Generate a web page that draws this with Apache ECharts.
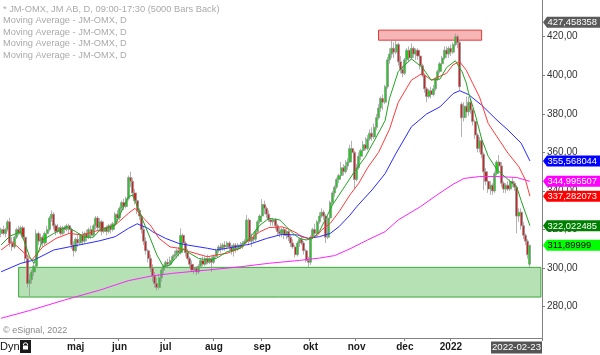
<!DOCTYPE html>
<html>
<head>
<meta charset="utf-8">
<script src="https://cdn.jsdelivr.net/npm/echarts@6/dist/echarts.min.js"></script>
<style>html,body{margin:0;padding:0;background:#fff}#c{width:600px;height:355px}</style>
</head>
<body>
<div id="c"></div>
<script>
// ---------- DATA ----------
const firstDay = '2021-03-12';
const lastDay = '2022-02-23';
const holidays = ['2021-04-02','2021-04-05','2021-05-13','2021-06-25','2021-12-24','2021-12-31','2022-01-06'];
const monthKeys = ['2021-05','2021-06','2021-07','2021-08','2021-09','2021-10','2021-11','2021-12','2022-01'];
const monthNames = ['maj','jun','jul','aug','sep','okt','nov','dec','2022'];
const yTicks = [280,300,320,340,360,380,400,420];
const priceScaleTop = 427.458358;
const supportZone = [285.0, 300.4];
const resistZone = [418.2, 423.4];

// candles: [open, close, low, high]
const candles = [
[318,320,316,321],[320,318,317,322],[318,320,316,321],[320,324,319,325],[324,313,311,326],
[313,311,309,316],[311,316,310,317],[316,320,315,321],[320,318,317,322],[318,321,317,322],
[321,316,315,322],[316,305,303,317],[305,292,290,307],[292,294,285.5,297],[294,298,292,299],
[298,301,296,303],[301,318,300,320],[318,314,312,319],[314,316,312,318],[316,313,311,317],
[313,318,312,319],[318,320,316,322],[320,326,319,327],[326,328,324,330],[328,322,320,329],
[322,319,317,323],[319,321,318,323],[321,318,317,322],[318,321,317,322],[321,320,318,322],
[320,322,319,323],[322,320,318,323],[320,312,310,321],[312,309,306,314],[309,315,308,316],
[315,313,311,317],[313,317,312,318],[317,314,312,319],[314,318,313,319],[318,316,314,320],
[316,320,315,321],[320,317,315,322],[317,322,316,323],[322,326,320,327],[326,321,319,327],
[321,324,319,326],[324,319,317,325],[319,321,318,322],[321,319,317,322],[319,322,318,323],
[322,320,318,323],[320,323,319,324],[323,328,322,329],[328,326,324,330],[326,331,325,332],
[331,334,329,335],[334,332,330,336],[332,336,331,337],[336,347,335,348],[347,345,342,350],
[345,339,337,347],[339,335,333,341],[335,330,328,336],[330,327,325,331],[327,320,318,328],
[320,314,312,322],[314,309,307,316],[309,305,303,310],[305,300,298,307],[300,296,293,302],
[296,292,290,298],[292,290,288.5,295],[290,295,289,297],[295,299,293,300],[299,301,297,302],
[301,303,300,304],[303,302,300,305],[302,304,301,306],[304,306,303,307],[306,307,305,309],
[307,309,305,310],[309,308,306,311],[308,317,307,320.6],[317,313,311,318],[313,308,306,314],
[308,305,304,310],[305,302,300,306],[302,299,298,304],[299,300,297,302],[300,298,296.4,301],
[298,301,297,302],[301,304,300,305],[304,302,301,306],[302,305,301,306],[305,303,302,307],
[303,305,302,306],[305,303,298,306],[303,306,302,307],[306,309,305,310],[309,311,308,312],
[311,310,308,313],[310,312,309,313],[312,311,309,314],[311,313,310,314],[313,311,309,314],
[311,309,307,312],[309,312,306,313],[312,310,308,313],[310,312,309,313],[312,311,310,313.5],
[311,313,310,314],[313,314,312,315],[314,325,313,327.5],[325,314,312,326],[314,316,311,318],
[316,315,313,318],[315,319,314,320],[319,324,318,325],[324,327,323,328],[327,333,326,335.8],
[333,331,328,335],[331,328,326,332],[328,325,324,330],[325,324,322,326],[324,325,322,326],
[325,322,320,326],[322,319,317,323],[319,318,316,321],[318,320,316,321],[320,317,315,321],
[317,319,315,320],[319,316,314,320],[316,313,311,317],[313,311,310,315],[311,307,305.5,312],
[307,313,306,314],[313,315,311,316],[315,313,312,317],[313,309,307,314],[309,304,303,310],
[304,303,300.7,306],[303,316,301.6,317],[316,320,315,321],[320,318,316,323],[318,324,317,325],
[324,327,323,329],[327,329,326,331],[329,327,325,330],[327,316,313,328],[316,326,315,327],
[326,334,325,335],[334,339,333,340],[339,342,337,343],[342,346,341,347],[346,348,344,349],
[348,352,347,355],[352,350,348,354],[350,353,349,356],[353,355,351,357],[355,362,354.5,364],
[362,360,357,366],[360,346,341,361],[346,352,345,354],[352,358,351,360],[358,361,356,362],
[361,364,360,366],[364,362,361,368],[362,367,361,369],[367,370,366,372],[370,368,366,373],
[368,373,367,375],[373,378,371.5,380],[378,383,377,385],[383,388,381,389],[388,386,382,390],
[386,394,385,395],[394,408,393,409.5],[408,411,406,414],[411,414,409,418.5],[414,412,409,417],
[412,416,411,418],[416,407,405,417],[407,403,401,410],[403,401,399,405],[401,408,400,409],
[408,413,406,414],[413,409,407,415],[409,414,408,416.5],[414,411,409,415],[411,413,408,414],
[413,410,408,414],[410,405,403,412],[405,400,399,406],[400,393,391,401],[393,389,386,394],
[389,392,388,393],[392,390,388,394],[390,393,389,395],[393,398,392,399],[398,402,397,403],
[402,406,401,407],[406,409,404,410],[409,413,408,415],[413,411,409,415],[411,414,409,415],
[414,412,410,416],[412,416,411,417],[416,420,415,421.6],[420,417,414,421],[417,394,392,418],
[385,378,368,386],[378,384,376,386],[384,381,378,389],[381,386,379,389],[386,382,380,388],
[382,376,374,383],[376,369,367,377],[369,362,360,370],[362,366,360,368],[366,359,357,367],
[359,350,340.5,360],[350,345,343,352],[345,341,339,346],[341,343,338,345],[343,340,338,344],
[340,349,339,350],[349,355,348,356],[355,353,351,358.6],[353,344,342,355],[344,341,339,345],
[341,343,339,344],[343,341,340,345],[341,345,340,346],[345,344,342,347],[344,342,340,345],
[342,327,318,343],[327,329,324,331],[329,322,320,331],[322,317,315,324],[317,314,312,318],
[314,307,305,315],[302,311.89999,300.5,312]
];

// moving averages: [barIndex, value]
const maGreen = [[0,312],[4,316.6],[9,318.9],[13,305.9],[15,302.5],[19,314.6],[24,318],[30,321.5],[34,318.9],[38,316],[42,316],[45,319.7],[52,322.3],[58,337],[60,337.9],[63,329.2],[68,315.4],[71,306.8],[74,300.7],[77,301.6],[80,305.9],[83,310],[86,307.7],[90,305],[95,304.2],[98,305],[103,308.5],[109,310.3],[113,315.4],[118,322.3],[122,325.8],[127,325],[130,321.5],[133,318],[136,315.4],[139,314.6],[142,315.4],[145,318.9],[148,325.8],[151,332.7],[154,337.9],[157,343],[161,350],[166,357.7],[171,368],[175,376.5],[177,388],[181,402],[187,408.5],[192,404],[196,397.5],[200,398],[203,404],[207,407.5],[210,402],[212,396],[213,391],[216,380],[219,367],[222,358],[226,351],[230,347],[235,342],[237,335],[241,322.022485]];
const maRed = [[0,309.4],[5,313.7],[14,304.2],[19,311],[25,315.4],[31,318],[37,317.2],[44,319.5],[52,322.3],[58,328.4],[61,331],[64,327],[68,322.3],[72,315.4],[77,311],[81,310.3],[86,308.5],[94,305.9],[98,306.8],[103,307.7],[109,310.3],[113,314.6],[118,318.9],[122,321],[128,321.4],[131,320.3],[135,318],[137,316.3],[140,315.4],[144,316.8],[146,319.7],[150,323.2],[154,329.2],[159,338],[163,344],[167,352],[172,360],[177,372],[181,386],[187,397.5],[192,401],[196,397.5],[203,401],[206,405.5],[209,407],[212,402.6],[215,395.6],[218,388.8],[222,375],[227,366.4],[231,359.6],[236,352.5],[239,345.6],[241,337.282073]];
const maBlue = [[0,298.1],[9,302.5],[15,304.2],[24,309.4],[31,311],[39,312.8],[45,314.2],[52,316.3],[58,320.6],[62,323],[67,320.6],[69,318.9],[75,315.4],[81,312.8],[87,311.6],[94,310.3],[98,309.4],[103,310.3],[109,311.6],[113,312.3],[121,315.4],[128,317.5],[135,317.2],[140,315.4],[145,316.3],[150,318],[154,321.5],[159,327.5],[162,331.8],[169,340.5],[175,349],[180,359.6],[187,373.3],[194,380],[200,383.6],[206,390.5],[209,392],[213,390],[219,384.5],[226,376.7],[231,371.6],[237,364.8],[241,355.568044]];
const maMagenta = [[0,274],[13,278],[29,283.5],[45,288.6],[58,293.5],[69,296],[78,297.3],[94,299],[109,300.7],[122,302.5],[136,304],[145,305.2],[152,306.5],[159,310],[167,314.6],[175,318.9],[181,325],[191,331.8],[200,339],[206,343.5],[211,346.5],[218,347.5],[226,347.5],[235,347],[241,344.995507]];

// ---------- BUILD ----------
function tradingDays() {
  const out = [];
  const d = new Date(firstDay + 'T12:00:00Z');
  const end = new Date(lastDay + 'T12:00:00Z');
  while (d <= end) {
    const wd = d.getUTCDay();
    const s = d.toISOString().slice(0, 10);
    if (wd !== 0 && wd !== 6 && holidays.indexOf(s) < 0) out.push(s);
    d.setUTCDate(d.getUTCDate() + 1);
  }
  return out;
}
const dates = tradingDays();
const padCount = 5;
const cats = dates.concat(Array.from({length: padCount}, (_, i) => 'pad' + i));
const tickIdx = monthKeys.map(k => dates.findIndex(d => d.indexOf(k) === 0));
const labelMap = {};
tickIdx.forEach((t, i) => { labelMap[t] = monthNames[i]; });
const tickSet = new Set(tickIdx);

const F = '"Liberation Sans", Arial, Helvetica, sans-serif';
const fmt = v => v.toFixed(2).replace('.', ',');
const yMin = 263.77, yMax = 439.03;

const chart = echarts.init(document.getElementById('c'), null, {renderer: 'canvas'});

const lineSeries = (data, color) => ({
  type: 'line', data: data, showSymbol: false, symbol: 'none', silent: true,
  lineStyle: {color: color, width: 1}, z: 4, animation: false
});

chart.setOption({
  animation: false,
  backgroundColor: '#ffffff',
  grid: {left: 0, right: 58, top: 0, bottom: 17},
  xAxis: {
    type: 'category', data: cats, boundaryGap: true,
    axisLine: {show: true, lineStyle: {color: '#808080', width: 1}},
    axisTick: {show: true, length: 3, interval: (i) => tickSet.has(i), lineStyle: {color: '#808080'}},
    axisLabel: {
      interval: (i) => tickSet.has(i),
      formatter: (v, i) => labelMap[i] || '',
      color: '#1a1a1a', fontSize: 10, fontWeight: 'bold', fontFamily: F, margin: 4
    },
    splitLine: {show: false}
  },
  yAxis: {
    type: 'value', position: 'right', min: yMin, max: yMax,
    axisLine: {show: true, lineStyle: {color: '#808080', width: 1}},
    axisTick: {show: true, length: 3, customValues: yTicks, lineStyle: {color: '#808080'}},
    axisLabel: {customValues: yTicks, formatter: fmt, color: '#333', fontSize: 10, fontFamily: F, margin: 5},
    splitLine: {show: false}
  },
  series: [
    {
      type: 'candlestick', data: candles, barWidth: 2.6, z: 3,
      itemStyle: {color: '#1fcc1f', color0: '#cc2424', borderColor: '#929292', borderColor0: '#929292', borderWidth: 0.7},
      markArea: {
        silent: true,
        data: [
          [{xAxis: 8, yAxis: supportZone[0], itemStyle: {color: 'rgba(60,175,60,0.38)', borderColor: '#3aa83a', borderWidth: 1}},
           {xAxis: cats.length - 1, yAxis: supportZone[1]}],
          [{xAxis: 172, yAxis: resistZone[0], itemStyle: {color: 'rgba(240,110,110,0.5)', borderColor: '#e03a3a', borderWidth: 1}},
           {xAxis: 219, yAxis: resistZone[1]}]
        ]
      }
    },
    lineSeries(maMagenta, '#ff22ff'),
    lineSeries(maBlue, '#2a2aff'),
    lineSeries(maRed, '#ff3a3a'),
    lineSeries(maGreen, '#1fa51f')
  ]
});

// ---------- overlays ----------
const g = [];
const legend = ['* JM-OMX, JM AB, D, 09:00-17:30 (5000 Bars Back)',
  'Moving Average - JM-OMX, D', 'Moving Average - JM-OMX, D',
  'Moving Average - JM-OMX, D', 'Moving Average - JM-OMX, D'];
legend.forEach((t, i) => {
  g.push({type: 'text', x: 3, y: 9 + i * 11.6, z: 50,
    style: {text: t, fill: '#aaaaaa', font: '9.3px ' + F, verticalAlign: 'middle', textVerticalAlign: 'middle'}});
});
g.push({type: 'text', x: 3, y: 331, z: 50,
  style: {text: '\u00a9 eSignal, 2022', fill: '#8a8a8a', font: '9px ' + F, verticalAlign: 'middle', textVerticalAlign: 'middle'}});
g.push({type: 'text', x: 0, y: 347, z: 50,
  style: {text: 'Dyn', fill: '#111', font: '11px ' + F, verticalAlign: 'middle', textVerticalAlign: 'middle'}});
g.push({type: 'rect', shape: {x: 20, y: 340, width: 11, height: 13}, style: {fill: '#1a1a1a'}, z: 50});
g.push({type: 'arc', shape: {cx: 25.5, cy: 345, r: 2.2, startAngle: Math.PI, endAngle: 0}, style: {stroke: '#fff', fill: null, lineWidth: 1}, z: 51});
g.push({type: 'rect', shape: {x: 23, y: 345.5, width: 5, height: 4}, style: {fill: '#fff'}, z: 51});

// date tag on x axis
g.push({type: 'rect', shape: {x: 491, y: 341.5, width: 51, height: 12}, style: {fill: '#555555'}, z: 60});
g.push({type: 'text', x: 516.5, y: 347.7, z: 61,
  style: {text: dates[dates.length - 1], fill: '#fff', font: '9.6px ' + F, align: 'center', textAlign: 'center', verticalAlign: 'middle', textVerticalAlign: 'middle'}});

// value tags on the right
const lastClose = candles[candles.length - 1][1];
const tags = [
  [priceScaleTop, 6, '#5a5a5a', '#fff'],
  [maBlue[maBlue.length - 1][1], 6, '#0000ff', '#fff'],
  [maMagenta[maMagenta.length - 1][1], 6, '#ff00ff', '#fff'],
  [maRed[maRed.length - 1][1], 6, '#ff0000', '#fff'],
  [maGreen[maGreen.length - 1][1], 6, '#008000', '#fff'],
  [lastClose, 5, '#00ff00', '#000']
];
tags.forEach(t => {
  const y = chart.convertToPixel({yAxisIndex: 0}, t[0]);
  g.push({type: 'polygon', z: 70,
    shape: {points: [[543, y], [547, y - 5.5], [600, y - 5.5], [600, y + 5.5], [547, y + 5.5]]},
    style: {fill: t[2]}});
  g.push({type: 'text', x: 547.5, y: y + 0.5, z: 71,
    style: {text: t[0].toFixed(t[1]).replace('.', ','), fill: t[3], font: '9.4px ' + F, verticalAlign: 'middle', textVerticalAlign: 'middle'}});
});
chart.setOption({graphic: g});
</script>
</body>
</html>
